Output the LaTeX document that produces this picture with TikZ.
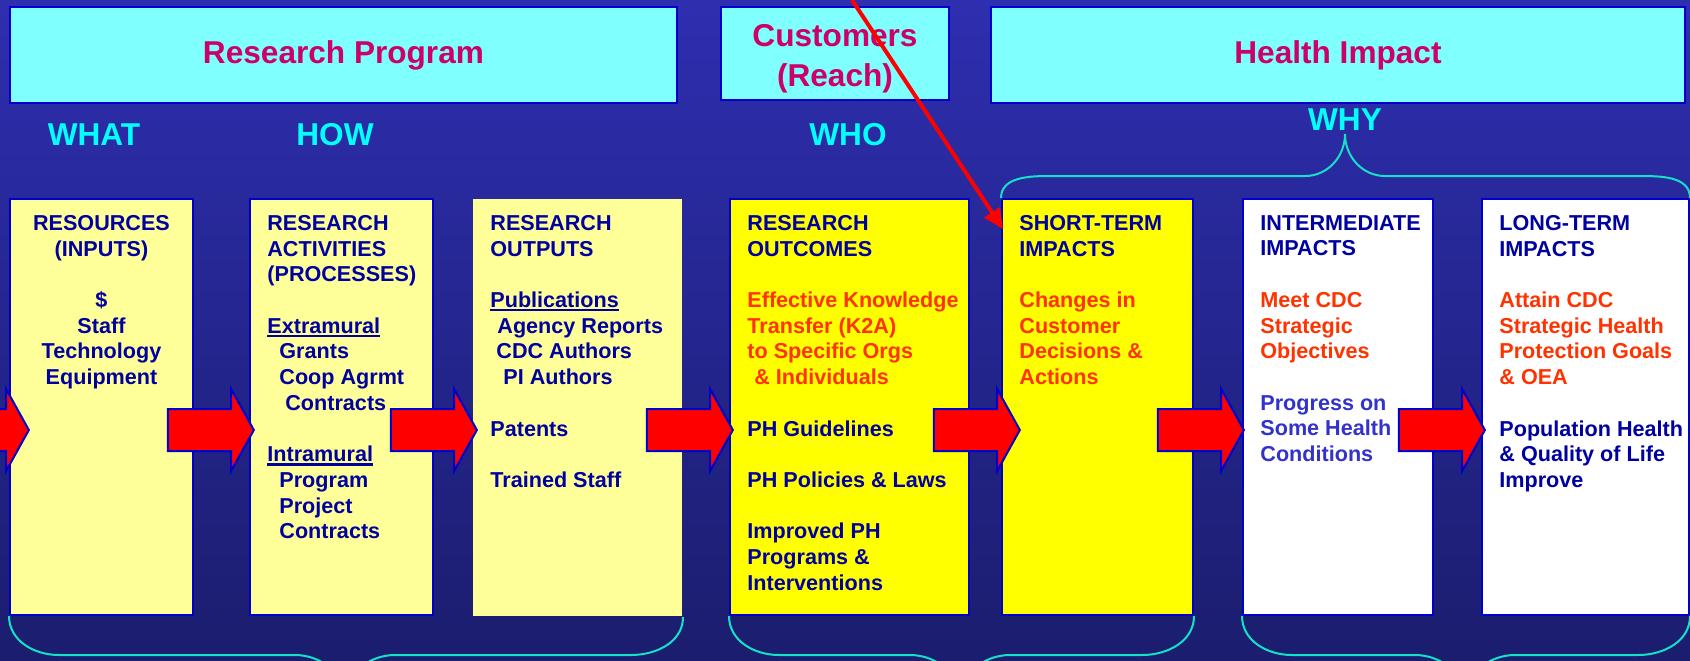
\documentclass[tikz,border=0pt]{standalone}
\usepackage{fontspec}
\setmainfont{Liberation Sans}
\usetikzlibrary{shapes.arrows,arrows.meta,positioning,calc}

\definecolor{BgTop}{RGB}{46,46,176}
\definecolor{BgBot}{RGB}{27,29,110}
\definecolor{Aqua}{RGB}{128,255,255}
\definecolor{Sky}{RGB}{0,255,255}
\definecolor{Frame}{RGB}{0,0,204}
\definecolor{TitleRed}{RGB}{204,0,102}
\definecolor{Pale}{RGB}{255,255,153}
\definecolor{Lemon}{RGB}{255,255,0}
\definecolor{Paper}{RGB}{255,255,255}
\definecolor{Signal}{RGB}{255,0,0}
\definecolor{TxtBlue}{RGB}{0,0,160}
\definecolor{TxtLight}{RGB}{51,51,204}
\definecolor{TxtOrange}{RGB}{255,51,0}
\definecolor{BraceCol}{RGB}{20,225,200}

\newcommand{\Warm}[1]{\textcolor{TxtOrange}{#1}}
\newcommand{\Soft}[1]{\textcolor{TxtLight}{#1}}
\newcommand{\UL}[1]{\setbox0\hbox{#1}\rlap{\rule[-1.9pt]{\wd0}{1.1pt}}\box0}

\begin{document}
\begin{tikzpicture}[x=0.5pt,y=-0.5pt,font=\bfseries,
	Title/.style={rectangle,draw=Frame,line width=1pt,fill=Aqua,text=TitleRed,inner sep=0pt,anchor=north west,align=center,font=\fontsize{15.8}{20}\selectfont\bfseries},
	TitleText/.style={text=TitleRed,inner sep=0pt,align=center,font=\fontsize{15.8}{20}\selectfont\bfseries},
	Head/.style={text=Sky,font=\fontsize{15.8}{20}\selectfont\bfseries},
	Column/.style={rectangle,draw=Frame,line width=1pt,inner sep=0pt,anchor=north west,minimum height=208pt},
	ColText/.style={anchor=north west,inner sep=0pt,align=left,text=TxtBlue,font=\fontsize{10.8}{12.85}\selectfont\bfseries},
	BigArrow/.style={single arrow,draw=Frame,fill=Signal,line width=1pt,inner sep=10pt,minimum height=43pt,single arrow head extend=10pt,single arrow tip angle=122,anchor=tip},
	Brace/.style={draw=BraceCol,line width=1pt},
	Pointer/.style={draw=Signal,line width=2pt,-{Triangle[length=10pt,width=9pt]}},
]
	\useasboundingbox (0,0) rectangle (1690,660);
	\clip (0,0) rectangle (1690,660);
	\shade[top color=BgTop,bottom color=BgBot] (0,0) rectangle (1690,660);

	% banners
	\node[Title,minimum width=333.5pt,minimum height=48pt] (prog) at (9,6) {Research Program};
	\node[Title,minimum width=114pt,minimum height=46.5pt] (cust) at (720,6) {};
	\node[TitleText] (custtxt) at ([yshift=-2.8pt]cust.center) {Customers\\(Reach)};
	\node[Title,minimum width=347pt,minimum height=48pt] (impact) at (990,6) {Health Impact};

	\node[Head] (what) at (94,135) {WHAT};
	\node[Head] (how) at (335,135) {HOW};
	\node[Head] (who) at (848,135) {WHO};
	\node[Head] (why) at (1345,120) {WHY};

	% columns
	\node[Column,fill=Pale,minimum width=91.5pt] (res) at (9,198) {};
	\node[Column,fill=Pale,minimum width=91.5pt] (act) at (249,198) {};
	\node[Column,fill=Pale,draw=none,minimum width=104.5pt,minimum height=208.5pt] (outp) at (472,198) {};
	\node[Column,fill=Lemon,minimum width=119.5pt] (outc) at (729,198) {};
	\node[Column,fill=Lemon,minimum width=95.5pt] (st) at (1001,198) {};
	\node[Column,fill=Paper,minimum width=95pt] (im) at (1242,198) {};
	\node[Column,fill=Paper,minimum width=103.5pt] (lt) at (1481,198) {};

	\node[ColText,anchor=north,align=center] (restxt) at ([yshift=-8.5pt]res.north)
		{RESOURCES\\(INPUTS)\\[12.85pt]\$\\Staff\\Technology\\Equipment};
	\node[ColText] (acttxt) at ([xshift=9pt,yshift=-8.5pt]act.north west)
		{RESEARCH\\ACTIVITIES\\(PROCESSES)\\[12.85pt]
		\UL{Extramural}\\\hspace*{6pt}Grants\\\hspace*{6pt}Coop Agrmt\\\hspace*{9pt}Contracts\\[12.85pt]
		\UL{Intramural}\\\hspace*{6pt}Program\\\hspace*{6pt}Project\\\hspace*{6pt}Contracts};
	\node[ColText] (outptxt) at ([xshift=9pt,yshift=-8.5pt]outp.north west)
		{RESEARCH\\OUTPUTS\\[12.85pt]
		\UL{Publications}\\\hspace*{3.5pt}Agency Reports\\\hspace*{3pt}CDC Authors\\\hspace*{6.5pt}PI Authors\\[12.85pt]
		Patents\\[12.85pt]
		Trained Staff};
	\node[ColText] (outctxt) at ([xshift=9pt,yshift=-8.5pt]outc.north west)
		{RESEARCH\\OUTCOMES\\[12.85pt]
		\Warm{Effective Knowledge}\\\Warm{Transfer (K2A)}\\\Warm{to Specific Orgs}\\\Warm{\hspace*{3.5pt}\& Individuals}\\[12.85pt]
		PH Guidelines\\[12.85pt]
		PH Policies \& Laws\\[12.85pt]
		Improved PH\\Programs \&\\Interventions};
	\node[ColText] (sttxt) at ([xshift=9pt,yshift=-8.5pt]st.north west)
		{SHORT-TERM\\IMPACTS\\[12.85pt]
		\Warm{Changes in}\\\Warm{Customer}\\\Warm{Decisions \&}\\\Warm{Actions}};
	\node[ColText] (imtxt) at ([xshift=9pt,yshift=-8.5pt]im.north west)
		{INTERMEDIATE\\IMPACTS\\[12.85pt]
		\Warm{Meet CDC}\\\Warm{Strategic}\\\Warm{Objectives}\\[12.85pt]
		\Soft{Progress on}\\\Soft{Some Health}\\\Soft{Conditions}};
	\node[ColText] (lttxt) at ([xshift=9pt,yshift=-8.5pt]lt.north west)
		{LONG-TERM\\IMPACTS\\[12.85pt]
		\Warm{Attain CDC}\\\Warm{Strategic Health}\\\Warm{Protection Goals}\\\Warm{\& OEA}\\[12.85pt]
		Population Health\\\& Quality of Life\\Improve};

	% braces
	\draw[Brace] (st.north west) to[out=90,in=180] (1050,176) -- (1305,176) to[out=0,in=-90] (1345,134)
		to[out=-90,in=180] (1385,176) -- (1638,176) to[out=0,in=90] (lt.north east);
	\draw[Brace] (res.south west) to[out=-90,in=180] (59,655) -- (295,655) to[out=0,in=90] (345,700)
		to[out=90,in=180] (395,655) -- (631,655) to[out=0,in=-90] (outp.south east);
	\draw[Brace] (outc.south west) to[out=-90,in=180] (779,655) -- (910,655) to[out=0,in=90] (960,700)
		to[out=90,in=180] (1010,655) -- (1142,655) to[out=0,in=-90] (st.south east);
	\draw[Brace] (im.south west) to[out=-90,in=180] (1292,655) -- (1415,655) to[out=0,in=90] (1465,700)
		to[out=90,in=180] (1515,655) -- (1638,655) to[out=0,in=-90] (lt.south east);

	% flow arrows
	\node[BigArrow] (arr1) at (30,430) {};
	\node[BigArrow] (arr2) at (255,430) {};
	\node[BigArrow] (arr3) at (478,430) {};
	\node[BigArrow] (arr4) at (734,430) {};
	\node[BigArrow] (arr5) at (1021,430) {};
	\node[BigArrow] (arr6) at (1245,430) {};
	\node[BigArrow] (arr7) at (1486,430) {};

	\coordinate (ptrtop) at (852,0);
	\draw[Pointer] (ptrtop) -- ([xshift=1pt,yshift=-15.5pt]st.north west);
\end{tikzpicture}
\end{document}
